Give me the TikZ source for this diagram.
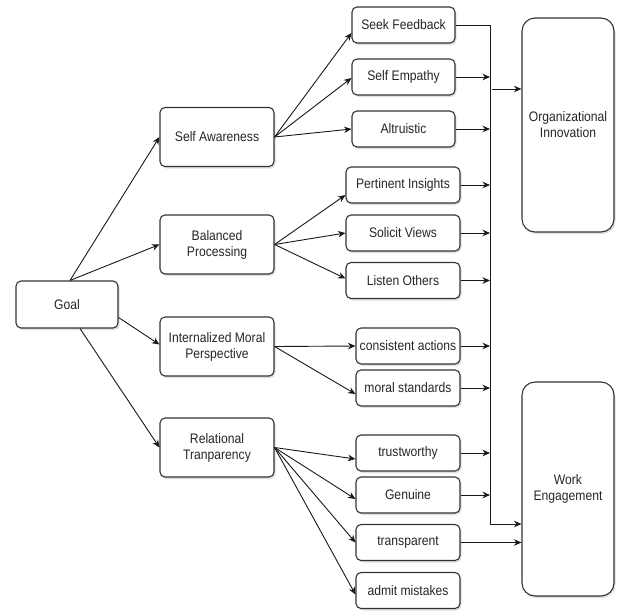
\documentclass[tikz,border=0pt]{standalone}
\usepackage{fontspec}
\setmainfont{Liberation Sans}[FakeStretch=0.88]
\usetikzlibrary{shadows,arrows.meta}
\begin{document}
\begin{tikzpicture}[x=1pt,y=-1pt,
  box/.style={draw=black!80, rounded corners=5pt, fill=white, line width=1.1pt,
    text=black!85, font=\fontsize{13.8}{16}\selectfont, align=center, inner sep=0pt,
    drop shadow={shadow xshift=1.5pt, shadow yshift=-2pt, opacity=0.25}},
  big/.style={box, rounded corners=13pt, minimum width=92pt, minimum height=214pt},
  lvl1/.style={box, minimum width=114pt, minimum height=59pt},
  leafa/.style={box, minimum width=103pt, minimum height=36pt},
  leafb/.style={box, minimum width=114pt, minimum height=36pt},
  leafc/.style={box, minimum width=104pt, minimum height=36pt},
  arr/.style={draw=black!90, line width=0.9pt, -{Stealth[length=7.5pt,width=6.5pt]}},
  ln/.style={draw=black!90, line width=0.9pt}]
\useasboundingbox (0,0) rectangle (620,611);
\fill[white] (0,0) rectangle (620,611);

\node[box, minimum width=102pt, minimum height=47pt] (goal) at (67,304.5) {Goal};
\node[lvl1] (sa) at (217,137) {Self Awareness};
\node[lvl1] (bp) at (217,244.5) {Balanced\\Processing};
\node[lvl1] (imp) at (217,346.5) {Internalized Moral\\Perspective};
\node[lvl1] (rt) at (217,447.5) {Relational\\Tranparency};

\node[leafa] (sf) at (403.5,25) {Seek Feedback};
\node[leafa] (se) at (403.5,77) {Self Empathy};
\node[leafa] (al) at (403.5,129) {Altruistic};
\node[leafb] (pi) at (403,185) {Pertinent Insights};
\node[leafb] (sv) at (403,233) {Solicit Views};
\node[leafb] (lo) at (403,280.5) {Listen Others};
\node[leafc] (ca) at (408,346) {consistent actions};
\node[leafc] (ms) at (408,388) {moral standards};
\node[leafc] (tw) at (408,453) {trustworthy};
\node[leafc] (ge) at (408,495) {Genuine};
\node[leafc] (tp) at (408,542.5) {transparent};
\node[leafc] (am) at (408,590.5) {admit mistakes};

\node[big] (oi) at (568,125) {Organizational\\Innovation};
\node[big] (we) at (568,489) {Work\\Engagement};

% Goal to level 1
\draw[arr] ([xshift=3pt]goal.north) -- (sa.west);
\draw[arr] ([xshift=3pt]goal.north) -- (bp.west);
\draw[arr] ([yshift=-13pt]goal.east) -- ([yshift=2pt]imp.west);
\draw[arr] ([xshift=13pt]goal.south) -- (rt.west);

% level 1 to leaves
\draw[arr] (sa.east) -- ([yshift=-8pt]sf.west);
\draw[arr] (sa.east) -- ([yshift=-1pt]se.west);
\draw[arr] (sa.east) -- (al.west);
\draw[arr] (bp.east) -- ([yshift=-10pt]pi.west);
\draw[arr] (bp.east) -- (sv.west);
\draw[arr] (bp.east) -- ([yshift=2pt]lo.west);
\draw[arr] (imp.east) -- (ca.west);
\draw[arr] (imp.east) -- ([yshift=-6pt]ms.west);
\draw[arr] (rt.east) -- ([yshift=-6pt]tw.west);
\draw[arr] (rt.east) -- ([yshift=-4pt]ge.west);
\draw[arr] (rt.east) -- (tp.west);
\draw[arr] (rt.east) -- ([yshift=-4pt]am.west);

% bus
\coordinate (bt) at (490,524);
\coordinate (oistart) at (492,89);
\draw[arr] (sf.east) -| (bt) -- (bt -| we.west);
\foreach \n in {se,al,pi,sv,lo,ca,ms,tw,ge}
  \draw[arr] (\n.east) -- (\n.east -| bt);
\draw[arr] (oistart) -- (oistart -| oi.west);
\draw[arr] (tp.east) -- (tp.east -| we.west);
\end{tikzpicture}
\end{document}
